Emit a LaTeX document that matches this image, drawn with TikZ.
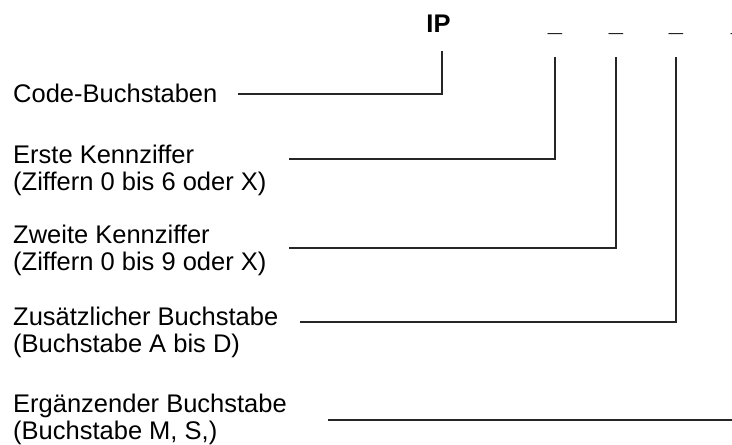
\documentclass[tikz,border=0pt]{standalone}
\usepackage{fontspec}
\setmainfont{Liberation Sans}
\usepackage{tikz}
\usetikzlibrary{positioning, calc}
\tikzstyle{beschreibung} = [anchor=north west, inner sep=0pt, align=left, font=\fontsize{25.5}{27}\selectfont]
\tikzstyle{feld} = [anchor=base, inner sep=0pt, font=\fontsize{25.5}{27}\selectfont\bfseries]
\tikzstyle{linie} = [line width=1.3pt, black!85]

\begin{document}
\begin{tikzpicture}[x=1pt, y=-1pt]
\useasboundingbox (0,0) rectangle (732,445);
\node (ip) [feld] at (438.5,32) {IP};
\node (f1) [feld] at (555,31) {\_};
\node (f2) [feld] at (616,31) {\_};
\node (f3) [feld] at (676,31) {\_};
\node (f4) [feld] at (738,31) {\_};

\node (code) [beschreibung] at (13,84) {Code-Buchstaben};
\node (erste) [beschreibung] at (13,145) {Erste Kennziffer\\(Ziffern 0 bis 6 oder X)};
\node (zweite) [beschreibung] at (13,225) {Zweite Kennziffer\\(Ziffern 0 bis 9 oder X)};
\node (zusatz) [beschreibung] at (13,307) {Zusätzlicher Buchstabe\\(Buchstabe A bis D)};
\node (ergaenz) [beschreibung] at (13,394) {Ergänzender Buchstabe\\(Buchstabe M, S,)};

\coordinate (c1) at (238,94);
\coordinate (c2) at (289,159);
\coordinate (c3) at (289,248);
\coordinate (c4) at (300,322);
\coordinate (c5) at (328,420);

\draw [linie] (c1) -| ([xshift=3.5pt, yshift=-19pt]ip.base);
\draw [linie] (c2) -| ([yshift=-26pt]f1.base);
\draw [linie] (c3) -| ([yshift=-26pt]f2.base);
\draw [linie] (c4) -| ([yshift=-26pt]f3.base);
\draw [linie] (c5) -- (c5 -| f4);
\end{tikzpicture}
\end{document}
